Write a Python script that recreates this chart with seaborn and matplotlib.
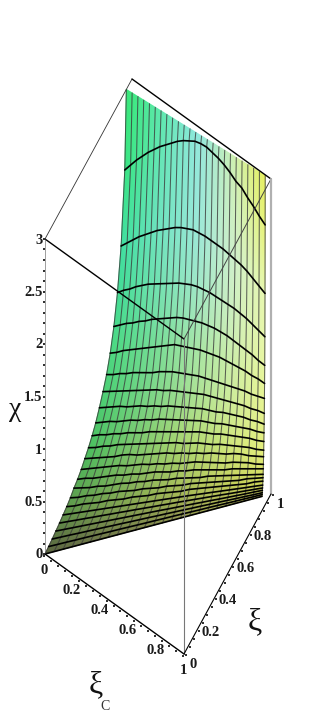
import numpy as np
import pandas as pd
import matplotlib
matplotlib.use('Agg')
import matplotlib.pyplot as plt
from matplotlib.colors import to_rgb
import seaborn as sns

# mesh coordinates: xi_c along the columns, fraction between diagonal and xi=1 along the rows
xic_cols = [0.00, 0.04, 0.08, 0.12, 0.16, 0.20, 0.24, 0.28, 0.32, 0.36, 0.40, 0.44, 0.48,
            0.52, 0.56, 0.60, 0.64, 0.68, 0.72, 0.76, 0.80, 0.84, 0.88, 0.92, 0.96]
frac_rows = [0.000, 0.042, 0.083, 0.125, 0.167, 0.208, 0.250, 0.292, 0.333, 0.375, 0.417, 0.458,
             0.500, 0.542, 0.583, 0.625, 0.667, 0.708, 0.750, 0.792, 0.833, 0.875, 0.917, 0.935]

# chi, one list per row, bottom to top (the top row is cut at 3)
chi_values = [
    [0]*25,
    [.007,.007,.008,.008,.009,.009,.009,.009,.010,.010,.010,.010,.011,.011,.012,.012,.012,.012,.013,.013,.013,.013,.014,.014,.015],
    [.016,.017,.018,.018,.019,.020,.021,.021,.022,.022,.023,.024,.024,.025,.025,.026,.026,.027,.027,.028,.028,.028,.029,.029,.030],
    [.028,.029,.030,.031,.032,.033,.034,.035,.036,.037,.038,.039,.040,.040,.041,.042,.043,.043,.044,.044,.045,.046,.047,.049,.050],
    [.040,.042,.043,.045,.046,.048,.049,.051,.052,.054,.055,.056,.058,.059,.061,.062,.063,.064,.065,.066,.066,.067,.068,.069,.070],
    [.055,.057,.059,.061,.063,.065,.067,.069,.071,.073,.075,.077,.079,.081,.083,.085,.086,.087,.088,.089,.090,.091,.092,.094,.095],
    [.07,.07,.08,.08,.08,.09,.09,.09,.10,.10,.10,.11,.11,.11,.11,.12,.12,.12,.12,.12,.12,.12,.12,.13,.13],
    [.09,.09,.10,.10,.11,.11,.12,.12,.12,.13,.13,.13,.14,.14,.14,.15,.15,.15,.15,.15,.15,.15,.16,.16,.16],
    [.12,.12,.12,.13,.13,.14,.15,.15,.16,.16,.17,.17,.17,.18,.18,.18,.18,.19,.19,.19,.19,.19,.19,.19,.19],
    [.14,.15,.15,.16,.17,.18,.18,.19,.19,.20,.21,.21,.21,.22,.22,.23,.23,.23,.23,.23,.24,.24,.24,.24,.24],
    [.17,.18,.19,.20,.21,.22,.22,.23,.24,.24,.25,.25,.26,.26,.27,.28,.28,.28,.28,.28,.29,.29,.29,.28,.28],
    [.21,.22,.23,.24,.25,.27,.28,.28,.29,.30,.31,.32,.32,.33,.33,.34,.34,.35,.35,.35,.36,.36,.35,.35,.35],
    [.25,.26,.28,.29,.31,.32,.33,.34,.35,.36,.37,.38,.39,.39,.40,.41,.41,.41,.42,.42,.42,.42,.42,.41,.41],
    [.30,.32,.33,.35,.36,.38,.39,.40,.42,.43,.44,.45,.46,.47,.48,.49,.49,.49,.50,.50,.50,.50,.50,.49,.49],
    [.36,.38,.40,.41,.43,.45,.46,.48,.49,.51,.52,.53,.54,.55,.56,.57,.57,.57,.58,.58,.58,.58,.58,.57,.57],
    [.44,.46,.48,.50,.51,.53,.55,.56,.58,.59,.61,.62,.63,.64,.65,.66,.66,.66,.67,.67,.67,.67,.66,.66,.65],
    [.53,.55,.57,.59,.61,.63,.65,.67,.69,.70,.72,.73,.74,.75,.76,.77,.77,.77,.77,.77,.77,.77,.76,.76,.75],
    [.63,.65,.68,.70,.73,.75,.77,.79,.82,.84,.86,.87,.88,.89,.90,.90,.90,.90,.90,.90,.90,.90,.89,.89,.89],
    [.77,.80,.84,.87,.90,.93,.96,.99,1.02,1.05,1.08,1.09,1.10,1.11,1.12,1.12,1.12,1.12,1.11,1.10,1.09,1.08,1.06,1.05,1.03],
    [.96,1.00,1.04,1.07,1.11,1.14,1.18,1.21,1.24,1.27,1.30,1.32,1.33,1.34,1.35,1.35,1.35,1.34,1.33,1.31,1.29,1.27,1.25,1.22,1.20],
    [1.22,1.27,1.31,1.36,1.40,1.44,1.47,1.50,1.53,1.56,1.59,1.61,1.63,1.64,1.64,1.64,1.63,1.62,1.61,1.60,1.58,1.56,1.53,1.50,1.47],
    [1.60,1.66,1.72,1.78,1.83,1.88,1.93,1.97,2.01,2.05,2.08,2.10,2.12,2.12,2.12,2.11,2.10,2.09,2.07,2.05,2.03,2.00,1.96,1.92,1.88],
    [2.26,2.34,2.42,2.49,2.56,2.62,2.68,2.73,2.78,2.83,2.87,2.90,2.93,2.94,2.94,2.92,2.90,2.87,2.83,2.78,2.75,2.69,2.64,2.58,2.53],
    [3]*25,
]

chi_ticks = [0, 0.5, 1, 1.5, 2, 2.5, 3]
chi_labels = ['0', '0.5', '1', '1.5', '2', '2.5', '3']
xi_ticks = [0, 0.2, 0.4, 0.6, 0.8, 1]
xi_labels = ['0', '0.2', '0.4', '0.6', '0.8', '1']

# surface colours at (frac, xi_c) anchors, bottom to top
color_fracs = [0, 0.25, 0.5, 0.75, 0.875, 0.935]
color_cols = [0, 0.25, 0.5, 0.75, 0.96]
color_grid = [
    ['#5c6340', '#70784a', '#868c4e', '#a4aa54', '#bcbc58'],
    ['#609a4c', '#80a852', '#a0b856', '#bcc85a', '#d0d858'],
    ['#4cc060', '#7cc86c', '#a8d670', '#cee67c', '#e4ee7c'],
    ['#4cd880', '#72dc94', '#a0e4a4', '#cdeea8', '#e8f598'],
    ['#40dfa0', '#70e4c0', '#9ae8d8', '#d0f0cc', '#e8f8b0'],
    ['#38e878', '#60e8b0', '#90e8e0', '#d0f0b0', '#e8f060'],
]

TICK_FONT = ['Liberation Serif', 'DejaVu Serif']
SYMBOL_FONT = ['Liberation Serif', 'DejaVu Serif']


def project(xic, xi, chi):
    # fixed view of the 3d box, result in image pixels
    xic, xi, chi = np.asarray(xic, float), np.asarray(xi, float), np.asarray(chi, float)
    return 45 + 139*xic + 87*xi, 554 + 100*xic - 160*xi - 105*chi


def mesh_lines(px, py):
    rows = []
    for i in range(px.shape[0]):
        rows.append(pd.DataFrame({'px': px[i], 'py': py[i], 'line': i}))
    return pd.concat(rows, ignore_index=True)


def box_line(ax, a, b, color='black', lw=0.8):
    x, y = project(*zip(a, b))
    sns.lineplot(x=x, y=y, sort=False, estimator=None, color=color, lw=lw, ax=ax, zorder=5)


if __name__ == '__main__':
    sns.set_theme(style='white')
    plt.rcParams['font.family'] = TICK_FONT

    fig = plt.figure(figsize=(3.21, 7.14), dpi=100)
    ax = fig.add_axes([0, 0, 1, 1])

    cols = np.array(xic_cols)
    fracs = np.array(frac_rows)
    chi = np.array(chi_values, float)
    xic_g, frac_g = np.meshgrid(cols, fracs)
    xi_g = xic_g + (1 - xic_g)*frac_g
    px, py = project(xic_g, xi_g, chi)

    # colour for every node from the anchor grid
    anchors = np.array([[to_rgb(c) for c in row] for row in color_grid])
    rgb = np.zeros(px.shape + (3,))
    for k in range(3):
        by_col = np.array([np.interp(cols, color_cols, anchors[r, :, k]) for r in range(len(color_fracs))])
        for j in range(len(cols)):
            rgb[:, j, k] = np.interp(fracs, color_fracs, by_col[:, j])
    ax.pcolormesh(px, py, rgb, shading='gouraud', zorder=1)

    # near-vertical lines, then the arches
    sns.lineplot(data=mesh_lines(px.T, py.T), x='px', y='py', units='line', estimator=None,
                 sort=False, color='#3c3c3c', lw=0.75, alpha=0.8, ax=ax, zorder=2)
    sns.lineplot(data=mesh_lines(px[:-1], py[:-1]), x='px', y='py', units='line', estimator=None,
                 sort=False, color='black', lw=1.2, ax=ax, zorder=3)

    # box
    box_line(ax, (0, 0, 3), (0, 1, 3), lw=0.6, color='#333333')
    box_line(ax, (0, 1, 3), (1, 1, 3), lw=1.0)
    box_line(ax, (0, 0, 3), (1, 0, 3), lw=1.0)
    box_line(ax, (1, 0, 3), (1, 1, 3), lw=0.7, color='#444444')
    box_line(ax, (1, 0, 0), (1, 0, 3), lw=0.8, color='#777777')
    box_line(ax, (1, 1, 0), (1, 1, 3), lw=1.6, color='#b0b0b0')
    box_line(ax, (0, 0, 0), (0, 0, 3), lw=0.4, color='#555555')
    box_line(ax, (0, 0, 0), (1, 0, 0), lw=1.0)
    box_line(ax, (1, 0, 0), (1, 1, 0), lw=0.8)

    # minor tick marks along the axes
    minor = np.arange(0, 3.01, 0.1)
    mx, my = project(0*minor, 0*minor, minor)
    ax.scatter(mx - 1.2, my, s=1.2, color='#333333', marker='s', linewidths=0, zorder=6)
    minor = np.arange(0, 1.001, 0.05)
    mx, my = project(minor, 0*minor, 0*minor)
    ax.scatter(mx - 1, my + 1.5, s=1.2, color='#333333', marker='s', linewidths=0, zorder=6)
    mx, my = project(1 + 0*minor, minor, 0*minor)
    ax.scatter(mx + 1.5, my + 1, s=1.2, color='#333333', marker='s', linewidths=0, zorder=6)

    tick_kw = dict(fontsize=10.5, fontweight='bold', family=TICK_FONT, color='#1a1a1a',
                   va='center', zorder=7)
    for v, lab in zip(chi_ticks, chi_labels):
        x, y = project(0, 0, v)
        ax.text(x - 2.5, y + 1, lab, ha='right', **tick_kw)
    for v, lab in zip(xi_ticks, xi_labels):
        x, y = project(v, 0, 0)
        ax.text(x - 1, y + 16, lab, ha='center', **tick_kw)
        x, y = project(1, v, 0)
        ax.text(x + 9, y + 11, lab, ha='center', **tick_kw)

    ax.text(15, 409, 'χ', fontsize=20, family=SYMBOL_FONT, ha='center', va='center', color='#111111')
    ax.text(255, 622, 'ξ', fontsize=23, family=SYMBOL_FONT, ha='center', va='center', color='#111111')
    ax.text(96, 685, 'ξ', fontsize=23, family=SYMBOL_FONT, ha='center', va='center', color='#111111')
    ax.text(105, 706, 'C', fontsize=10, family=TICK_FONT, ha='center', va='center', color='#333333')

    ax.set(xlim=(0, 321), ylim=(714, 0), xlabel='', ylabel='')
    ax.axis('off')
    fig.savefig('out.png', dpi=100)
